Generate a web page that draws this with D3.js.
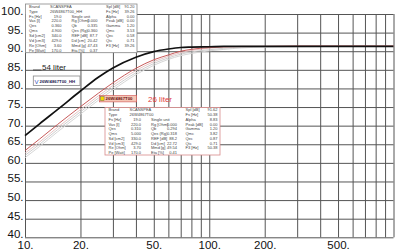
<!DOCTYPE html>
<html><head><meta charset="utf-8">
<script src="https://cdn.jsdelivr.net/npm/d3@7"></script>
<style>
html,body{margin:0;padding:0;background:#fff;}
svg{display:block;font-family:Arial,"Liberation Sans",sans-serif;}
</style></head>
<body>
<svg id="c" width="400" height="252"></svg>
<script>
// ---- data ----
const freqs   = [10, 12, 15, 20, 25, 30, 40, 50, 60, 70, 80, 100, 120, 150, 200, 300, 500, 1000];
const spl54   = [67.3, 70.5, 74.3, 79.3, 83.0, 85.5, 88.4, 89.9, 90.6, 91.0, 91.1, 91.2, 91.3, 91.3, 91.3, 91.3, 91.3, 91.3];
const spl26   = [63.3, 66.4, 70.3, 75.1, 78.7, 81.5, 85.4, 87.7, 89.0, 90.0, 90.5, 91.0, 91.2, 91.3, 91.3, 91.4, 91.4, 91.4];
const splG1   = [62.6, 65.6, 69.5, 74.3, 78.0, 80.8, 84.8, 87.2, 88.6, 89.6, 90.2, 90.8, 91.1, 91.2, 91.3, 91.3, 91.3, 91.3];
const splG2   = [62.0, 65.0, 68.9, 73.7, 77.4, 80.2, 84.2, 86.7, 88.2, 89.2, 89.8, 90.4, 90.8, 91.1, 91.2, 91.3, 91.3, 91.3];
const splG3   = [61.4, 64.4, 68.3, 73.1, 76.8, 79.6, 83.7, 86.2, 87.8, 88.8, 89.4, 90.1, 90.5, 90.9, 91.1, 91.2, 91.3, 91.3];
const xGrid   = [10,20,30,40,50,60,70,80,90,100,200,300,400,500,600,700,800,900,1000];
const xLabels = [10, 20, 50, 100, 200, 500];
const yTicks  = [40,45,50,55,60,65,70,75,80,85,90,95,100];

const box1Rows = [
 ["Brand","SCANSPEA","","","Spl   [dB]","91.20"],
 ["Type","26W4867T00_HH","","","Fs    [Hz]","39.26"],
 ["Fs   [Hz]","19.0","Single unit","","Alpha","0.00"],
 ["Vas   [l]","220.0","Rg   [Ohm]","0.000","Peak  [dB]","0.00"],
 ["Qes","0.360","Qb","0.335","Gamma","1.20"],
 ["Qms","4.900","Qes   (Rg)","0.360","Qmc","3.53"],
 ["Sd  [cm2]","340.0","REF   [dB]","87.7","Qec","0.58"],
 ["Vd  [cm3]","429.0","Dd    [cm]","20.42","Qtc","0.71"],
 ["Re [Ohm]","3.60","Mmd    [g]","47.43","F3    [Hz]","39.26"],
 ["Pe [Watt]","170.0","Eta    [%]","0.37","",""]
];
const box2Rows = [
 ["Brand","SCANSPEA","","","Spl   [dB]","91.62"],
 ["Type","26W4867T00","","","Fs    [Hz]","50.38"],
 ["Fs   [Hz]","19.0","Single unit","","Alpha","8.83"],
 ["Vas   [l]","220.0","Rg   [Ohm]","0.000","Peak  [dB]","0.00"],
 ["Qes","0.310","Qb","0.294","Gamma","1.20"],
 ["Qms","5.000","Qes   (Rg)","0.318","Qmc","3.82"],
 ["Sd  [cm2]","330.0","REF   [dB]","88.2","Qec","0.87"],
 ["Vd  [cm3]","429.0","Dd    [cm]","22.72","Qtc","0.71"],
 ["Re [Ohm]","3.70","Mmd    [g]","49.54","F3    [Hz]","50.38"],
 ["Pe [Watt]","170.0","Eta    [%]","0.41","",""]
];

// ---- chart ----
const svg = d3.select("#c");
const x = d3.scaleLog().domain([10,1000]).range([25,393.5]);
const y = d3.scaleLinear().domain([40,100]).range([237.3,14]);
const plotW = x.range()[1]-x.range()[0];
const plotH = y.range()[0]-y.range()[1];

const gx = svg.append("g").attr("transform",`translate(0,${y(40)})`)
  .call(d3.axisBottom(x).tickValues(xGrid).tickSize(-plotH).tickPadding(3.8)
    .tickFormat(d => xLabels.includes(d) ? d + "." : ""));
gx.select(".domain").remove();
gx.selectAll("line").attr("stroke","#555").attr("stroke-width",1);
gx.selectAll("text").attr("font-size","11.5px").attr("fill","#111").attr("font-family","Arial, 'Liberation Sans', sans-serif");

const gy = svg.append("g").attr("transform",`translate(${x(10)},0)`)
  .call(d3.axisLeft(y).tickValues(yTicks).tickSize(-plotW).tickPadding(1.5)
    .tickFormat(d => d + "."));
gy.select(".domain").remove();
gy.selectAll("line").attr("stroke","#555").attr("stroke-width",1);
gy.selectAll("text").attr("font-size","11.5px").attr("fill","#111").attr("dy","0").attr("y",0.5)
  .attr("font-family","Arial, 'Liberation Sans', sans-serif");

const line = d3.line().x((d,i)=>x(freqs[i])).y(d=>y(d)).curve(d3.curveMonotoneX);
const series = [
  {v:splG3, c:"#d6d6d6", w:1},
  {v:splG2, c:"#cfcfcf", w:1},
  {v:splG1, c:"#e6c4c4", w:1},
  {v:spl26, c:"#c85a5a", w:1},
  {v:spl54, c:"#111", w:1.7}
];
svg.append("g").selectAll("path").data(series).join("path")
  .attr("d", d=>line(d.v)).attr("fill","none")
  .attr("stroke", d=>d.c).attr("stroke-width", d=>d.w);

// info boxes
function infoBox(rows, left, top, w, h, stroke){
  const g = svg.append("g");
  g.append("rect").attr("x",left).attr("y",top).attr("width",w).attr("height",h)
    .attr("fill","#fff").attr("stroke",stroke).attr("stroke-width",0.8);
  const rowH = h/rows.length;
  const cols = [
    {dx:3.5, anchor:"start"},
    {dx:36, anchor:"end"},
    {dx:46, anchor:"start"},
    {dx:72, anchor:"end"},
    {dx:80.5, anchor:"start"},
    {dx:w-2.5, anchor:"end"}
  ];
  rows.forEach((r,i)=>{
    r.forEach((t,j)=>{
      if(!t) return;
      let anchor = cols[j].anchor, dx = cols[j].dx;
      if(j===1 && i<2){ anchor="start"; dx=24.5; }
      g.append("text").attr("x",left+dx).attr("y",top+rowH*(i+0.5)+1.4)
        .attr("text-anchor",anchor).attr("font-size","4px").attr("fill","#444").text(t);
    });
  });
}
infoBox(box1Rows, 25.5, 4, 111.5, 48.7, "#888");
infoBox(box2Rows, 105, 107.5, 115, 47.5, "#d88a8a");

// annotations
svg.append("line").attr("x1",33).attr("x2",41.5).attr("y1",70).attr("y2",70).attr("stroke","#333").attr("stroke-width",0.8);
svg.append("text").attr("x",42).attr("y",70).attr("font-size","8px").attr("fill","#222").text("54 liter");

const l1 = svg.append("g");
l1.append("rect").attr("x",33.3).attr("y",76).attr("width",46.7).attr("height",9.5)
  .attr("fill","#fff").attr("stroke","#888").attr("stroke-width",0.8);
l1.append("text").attr("x",34.5).attr("y",83.5).attr("font-size","6px").attr("fill","#3050c0").text("V");
l1.append("text").attr("x",39.5).attr("y",82.8).attr("font-size","4.3px").attr("font-weight","bold").attr("fill","#1a1a50").text("26W/4867T00_HH");

const l2 = svg.append("g");
l2.append("rect").attr("x",99.3).attr("y",95.5).attr("width",37.4).attr("height",6.4)
  .attr("fill","#f5c6b5").attr("stroke","#d05050").attr("stroke-width",0.6);
l2.append("rect").attr("x",100.5).attr("y",96.5).attr("width",3.6).attr("height",4.2)
  .attr("fill","#f2d800").attr("stroke","#555").attr("stroke-width",0.4);
l2.append("text").attr("x",105.5).attr("y",100.4).attr("font-size","4.3px").attr("font-weight","bold").attr("fill","#6a1010").text("26W/4867T00");

svg.append("text").attr("x",148).attr("y",102).attr("font-size","8px").attr("fill","#e03c3c").text("26 liter");
</script>
</body></html>
